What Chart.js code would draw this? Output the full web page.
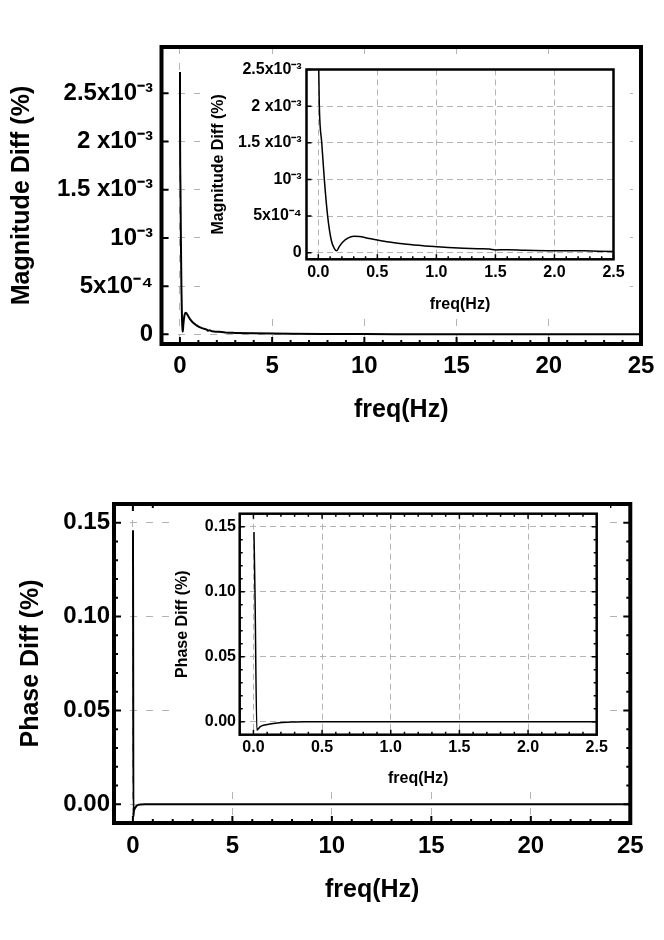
<!DOCTYPE html>
<html>
<head>
<meta charset="utf-8">
<script src="https://cdn.jsdelivr.net/npm/chart.js@4"></script>
<style>
  body { margin: 0; background: #fff; }
  #page { position: relative; width: 664px; height: 940px; }
  .box { position: absolute; }
  .inset { background: #fff; }
</style>
</head>
<body>
<div id="page">
  <div class="box" style="left:0;top:0;width:664px;height:460px"><canvas id="magMain"></canvas></div>
  <div class="box" style="left:0;top:470px;width:664px;height:470px"><canvas id="phaseMain"></canvas></div>
  <div class="box inset" style="left:200px;top:55px;width:430px;height:263px"><canvas id="magInset"></canvas></div>
  <div class="box inset" style="left:170px;top:506px;width:440px;height:282px"><canvas id="phaseInset"></canvas></div>
</div>
<script>
Chart.defaults.font.family = "'Liberation Sans', Arial, Helvetica, sans-serif";
Chart.defaults.font.weight = "bold";
Chart.defaults.color = "#000";

// magnitude difference (%) vs frequency (Hz)
const magFreq = [0.002, 0.008, 0.029, 0.051, 0.079, 0.11, 0.135, 0.155, 0.18, 0.21, 0.25, 0.3, 0.35, 0.4,
  0.5, 0.6, 0.75, 0.9, 1.0, 1.1, 1.23, 1.35, 1.45, 1.5, 1.6, 1.75, 2.0, 2.25, 2.5,
  3, 4, 5, 6, 8, 10, 13, 16, 20, 25];
const magDiff = [0.00272, 0.00205, 0.0015, 0.001, 0.0005, 0.00017, 0.00006, 0.000027, 0.00009, 0.00015, 0.0002, 0.000225, 0.00022, 0.000205,
  0.000173, 0.000145, 0.000114, 0.000093, 0.000082, 0.000072, 0.000062, 0.000055, 0.00005, 0.000038, 0.000042, 0.000032, 0.000027, 0.000025, 0.000018,
  0.000015, 0.000011, 0.000008, 0.000006, 0.000004, 0.000003, 0.000002, 0.0000015, 0.000001, 0.000001];

// phase difference (%) vs frequency (Hz)
const phaseFreq = [0.004, 0.012, 0.025, 0.035, 0.05, 0.08, 0.12, 0.19, 0.28, 0.4, 0.6, 1, 2.5, 5, 10, 25];
const phaseDiff = [0.146, 0.094, -0.0065, -0.0055, -0.0038, -0.0026, -0.0018, -0.0008, -0.0003, -0.0001, 0, 0, 0, 0, 0, 0];

const mainFreqTicks = [0, 5, 10, 15, 20, 25];
const mainFreqLabels = ["0", "5", "10", "15", "20", "25"];
const insetFreqTicks = [0, 0.5, 1, 1.5, 2, 2.5];
const insetFreqLabels = ["0.0", "0.5", "1.0", "1.5", "2.0", "2.5"];
const magTicks = [0, 0.0005, 0.001, 0.0015, 0.002, 0.0025];
const magTickLabels = ["0", "5x10⁻⁴", "10⁻³", "1.5 x10⁻³", "2 x10⁻³", "2.5x10⁻³"];
const phaseTicks = [0, 0.05, 0.1, 0.15];
const phaseTickLabels = ["0.00", "0.05", "0.10", "0.15"];

// frame around the plot area with inward tick marks
const framePlugin = {
  id: "frame",
  afterDatasetsDraw(chart, args, o) {
    const ctx = chart.ctx;
    const a = chart.chartArea;
    const sx = chart.scales.x, sy = chart.scales.y;
    ctx.save();
    ctx.strokeStyle = "#000";
    ctx.lineWidth = o.tickW;
    ctx.beginPath();
    const ratioX = Math.round(o.xMajor / o.xMinor);
    for (let k = Math.ceil(sx.min / o.xMinor - 1e-6); k * o.xMinor <= sx.max + 1e-9; k++) {
      const len = k % ratioX === 0 ? o.major : o.minor;
      const px = sx.getPixelForValue(k * o.xMinor);
      if (o.sides.includes("b")) { ctx.moveTo(px, a.bottom); ctx.lineTo(px, a.bottom - len); }
      if (o.sides.includes("t")) { ctx.moveTo(px, a.top); ctx.lineTo(px, a.top + len); }
    }
    const ratioY = Math.round(o.yMajor / o.yMinor);
    for (let k = Math.ceil(sy.min / o.yMinor - 1e-6); k * o.yMinor <= sy.max + 1e-12; k++) {
      const len = k % ratioY === 0 ? o.major : o.minor;
      const py = sy.getPixelForValue(k * o.yMinor);
      if (o.sides.includes("l")) { ctx.moveTo(a.left, py); ctx.lineTo(a.left + len, py); }
      if (o.sides.includes("r")) { ctx.moveTo(a.right, py); ctx.lineTo(a.right - len, py); }
    }
    ctx.stroke();
    ctx.lineWidth = o.w;
    ctx.strokeRect(a.left, a.top, a.right - a.left, a.bottom - a.top);
    ctx.restore();
  }
};

function panel(id, p) {
  const pts = p.xs.map((x, i) => ({ x: x, y: p.ys[i] }));
  return new Chart(document.getElementById(id), {
    type: "line",
    data: {
      datasets: [{
        data: pts,
        borderColor: "#000",
        borderWidth: p.lineW,
        pointRadius: 0,
        fill: false,
        cubicInterpolationMode: "monotone"
      }]
    },
    options: {
      responsive: true,
      maintainAspectRatio: false,
      animation: false,
      events: [],
      layout: { padding: p.pad },
      plugins: {
        legend: { display: false },
        tooltip: { enabled: false },
        frame: p.frame
      },
      scales: {
        x: {
          type: "linear",
          min: p.xMin,
          max: p.xMax,
          afterBuildTicks: s => { s.ticks = p.xTicks.map(v => ({ value: v })); },
          afterFit: s => { s.height = p.xH; s.paddingLeft = 0; s.paddingRight = 0; },
          ticks: {
            autoSkip: false, maxRotation: 0, padding: p.xTickPad,
            font: { size: p.tickSize },
            callback: (v, i) => p.xLabels[i]
          },
          grid: { color: "#b4b4b4", lineWidth: 1, drawTicks: false },
          border: { display: false, dash: p.dash },
          title: { display: true, text: "freq(Hz)", font: { size: p.titleSize }, padding: { top: 0, bottom: p.xTitlePad } }
        },
        y: {
          type: "linear",
          min: p.yMin,
          max: p.yMax,
          afterBuildTicks: s => { s.ticks = p.yTicks.map(v => ({ value: v })); },
          afterFit: s => { s.width = p.yW; s.paddingTop = 0; s.paddingBottom = 0; },
          ticks: {
            autoSkip: false, padding: p.yTickPad,
            font: { size: p.tickSize },
            callback: (v, i) => p.yLabels[i]
          },
          grid: { color: "#b4b4b4", lineWidth: 1, drawTicks: false },
          border: { display: false, dash: p.dash },
          title: { display: true, text: p.yTitle, font: { size: p.titleSize }, padding: { top: p.yTitlePad, bottom: 0 } }
        }
      }
    },
    plugins: [framePlugin]
  });
}

panel("magMain", {
  xs: magFreq, ys: magDiff, lineW: 2,
  pad: { left: 0, top: 47, right: 23, bottom: 0 },
  xMin: -1, xMax: 25, yMin: -0.0001, yMax: 0.00298,
  xTicks: mainFreqTicks, xLabels: mainFreqLabels,
  yTicks: magTicks, yLabels: magTickLabels,
  xH: 116, yW: 161.5,
  tickSize: 24, titleSize: 25,
  xTickPad: 7.6, yTickPad: 8.5, xTitlePad: 35, yTitlePad: 7,
  yTitle: "Magnitude Diff (%)",
  dash: [7, 9],
  frame: { w: 4, tickW: 2, major: 7, minor: 4, sides: "lb", xMinor: 1, xMajor: 5, yMinor: 0.0005, yMajor: 0.0005 }
});

panel("phaseMain", {
  xs: phaseFreq, ys: phaseDiff, lineW: 2,
  pad: { left: 0, top: 34, right: 33.7, bottom: 0 },
  xMin: -0.95, xMax: 25, yMin: -0.01, yMax: 0.16,
  xTicks: mainFreqTicks, xLabels: mainFreqLabels,
  yTicks: phaseTicks, yLabels: phaseTickLabels,
  xH: 117, yW: 114,
  tickSize: 24, titleSize: 25,
  xTickPad: 8.6, yTickPad: 4, xTitlePad: 35, yTitlePad: 16.5,
  yTitle: "Phase Diff (%)",
  dash: [7, 9],
  frame: { w: 4, tickW: 2, major: 7, minor: 4, sides: "lbrt", xMinor: 1, xMajor: 5, yMinor: 0.01, yMajor: 0.05 }
});

panel("magInset", {
  xs: magFreq, ys: magDiff, lineW: 1.5,
  pad: { left: 0, top: 14.5, right: 16.5, bottom: 0 },
  xMin: -0.1, xMax: 2.5, yMin: -0.00009, yMax: 0.0025,
  xTicks: insetFreqTicks, xLabels: insetFreqLabels,
  yTicks: magTicks, yLabels: magTickLabels,
  xH: 58.7, yW: 106.5,
  tickSize: 16, titleSize: 16,
  xTickPad: 4.1, yTickPad: 4.8, xTitlePad: 3.4, yTitlePad: 8.9,
  yTitle: "Magnitude Diff (%)",
  dash: [6, 4],
  frame: { w: 2.5, tickW: 1.5, major: 5, minor: 3, sides: "lb", xMinor: 0.1, xMajor: 0.5, yMinor: 0.0005, yMajor: 0.0005 }
});

panel("phaseInset", {
  xs: phaseFreq, ys: phaseDiff, lineW: 1.5,
  pad: { left: 0, top: 7.7, right: 13.3, bottom: 0 },
  xMin: -0.1, xMax: 2.5, yMin: -0.01, yMax: 0.16,
  xTicks: insetFreqTicks, xLabels: insetFreqLabels,
  yTicks: phaseTicks, yLabels: phaseTickLabels,
  xH: 53.3, yW: 69.7,
  tickSize: 16, titleSize: 16,
  xTickPad: 3.7, yTickPad: 3.7, xTitlePad: 0, yTitlePad: 3.4,
  yTitle: "Phase Diff (%)",
  dash: [6, 4],
  frame: { w: 2.5, tickW: 1.5, major: 5, minor: 3, sides: "lbrt", xMinor: 0.1, xMajor: 0.5, yMinor: 0.01, yMajor: 0.05 }
});
</script>
</body>
</html>
